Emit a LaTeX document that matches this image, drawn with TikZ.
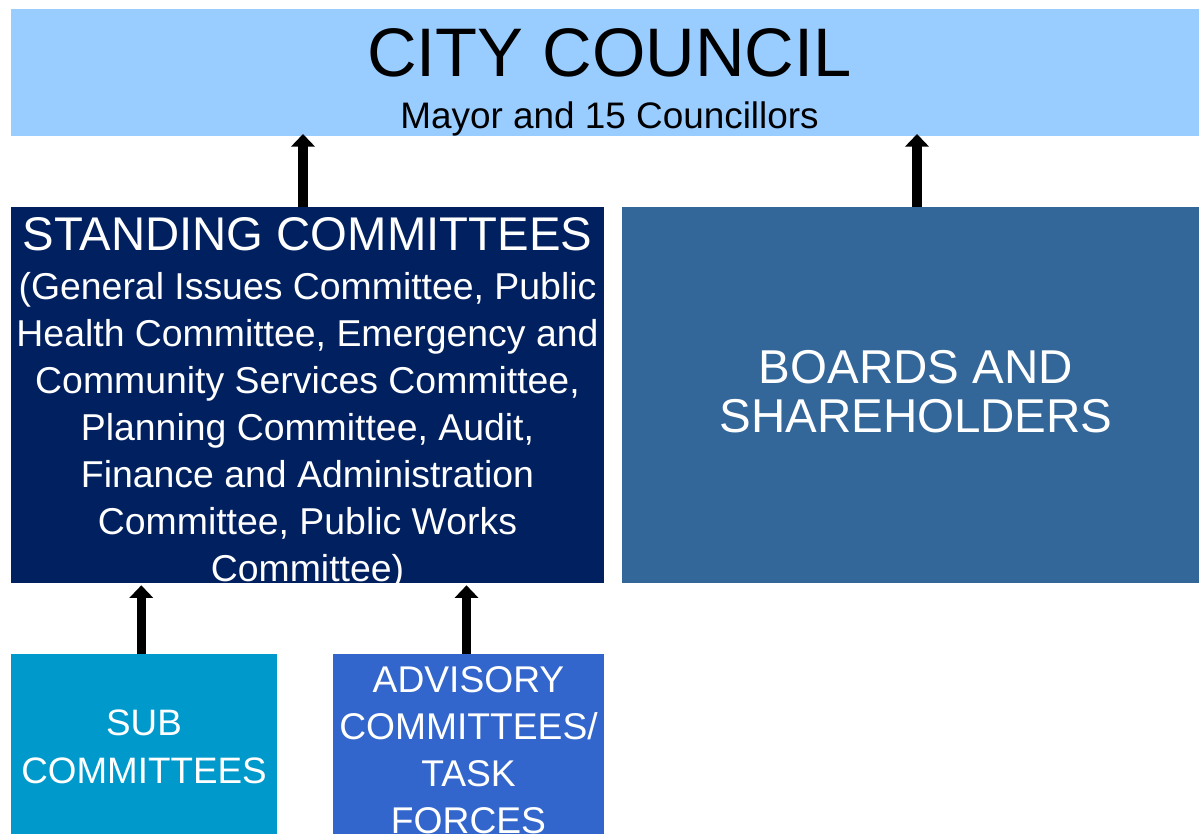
\documentclass[tikz,border=0pt]{standalone}
\usepackage{fontspec}
\setmainfont{Liberation Sans}
\usetikzlibrary{arrows.meta,calc}
\definecolor{council}{HTML}{99CCFF}
\definecolor{standing}{HTML}{002060}
\definecolor{boards}{HTML}{336699}
\definecolor{subc}{HTML}{0099CC}
\definecolor{advisory}{HTML}{3366CC}
\begin{document}
\begin{tikzpicture}[x=1pt,y=-1pt,
  box/.style={rectangle, inner sep=0pt, outer sep=0pt, draw=none, anchor=north west},
  lbl/.style={inner sep=0pt, outer sep=0pt, align=center, anchor=base},
  wlbl/.style={lbl, text=white},
  arr/.style={line width=9.5pt, -{Triangle[width=23pt,length=12.5pt]}}]
\clip (0,0) rectangle (1199,833);
\fill[white] (0,0) rectangle (1199,833);
% boxes
\node[box, fill=council, minimum width=1197pt, minimum height=127pt] (cc) at (11,9) {};
\node[box, fill=standing, minimum width=593pt, minimum height=376pt] (sc) at (11,207) {};
\node[box, fill=boards, minimum width=588pt, minimum height=376pt] (bd) at (622,207) {};
\node[box, fill=subc, minimum width=266pt, minimum height=200pt] (sb) at (11,654) {};
\node[box, fill=advisory, minimum width=271pt, minimum height=200pt] (ad) at (333,654) {};
% texts
\node[lbl, font=\fontsize{68.7}{84}\selectfont] (cct) at (609.5,76) {CITY COUNCIL};
\node[lbl, font=\fontsize{36.9}{43}\selectfont] (ccs) at (609.5,128) {Mayor and 15 Councillors};
\node[wlbl, font=\fontsize{47.3}{55}\selectfont] (sct) at (307.5,250) {STANDING COMMITTEES};
\node[wlbl, font=\fontsize{37.4}{47}\selectfont] (scb) at (307.5,581) {(General Issues Committee, Public\\Health Committee, Emergency and\\Community Services Committee,\\Planning Committee, Audit,\\Finance and Administration\\Committee, Public Works\\Committee)};
\node[wlbl, font=\fontsize{47.5}{48.5}\selectfont] (bdt) at (916,432) {BOARDS AND\\SHAREHOLDERS};
\node[wlbl, font=\fontsize{36.8}{48}\selectfont] (sbt) at (144,783) {SUB\\COMMITTEES};
\node[wlbl, font=\fontsize{37.2}{47}\selectfont] (adt) at (468.5,833) {ADVISORY\\COMMITTEES/\\TASK\\FORCES};
% arrows
\draw[arr] ($(sc.north)+(-4.5,0)$) -- ($(sc.north |- cc.south)+(-4.5,-2)$);
\draw[arr] ($(bd.north)+(1,0)$) -- ($(bd.north |- cc.south)+(1,-2)$);
\draw[arr] ($(sb.north)+(-2.7,0)$) -- ($(sb.north |- sc.south)+(-2.7,2.3)$);
\draw[arr] ($(ad.north)+(-2,0)$) -- ($(ad.north |- sc.south)+(-2,2.3)$);
\end{tikzpicture}
\end{document}
